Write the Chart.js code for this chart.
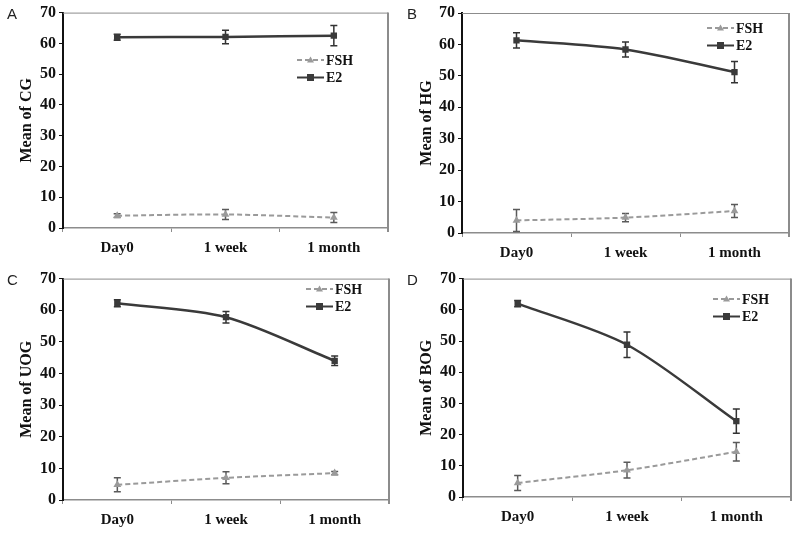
<!DOCTYPE html>
<html>
<head>
<meta charset="utf-8">
<script src="https://cdn.jsdelivr.net/npm/chart.js@4.4.1/dist/chart.umd.min.js"></script>
<style>
  body { margin: 0; background: #fff; }
  .panel { position: absolute; }
</style>
</head>
<body>
<div class="panel" style="left:0;top:0"><canvas id="chartA" width="400" height="266"></canvas></div>
<div class="panel" style="left:400px;top:0"><canvas id="chartB" width="400" height="266"></canvas></div>
<div class="panel" style="left:0;top:266px"><canvas id="chartC" width="400" height="267"></canvas></div>
<div class="panel" style="left:400px;top:266px"><canvas id="chartD" width="400" height="267"></canvas></div>
<script>
// Data
const categories = ['Day0', '1 week', '1 month'];
const yTicks = [0, 10, 20, 30, 40, 50, 60, 70];

const e2A = [62.0, 62.1, 62.5];
const e2ErrA = [1.0, 2.2, 3.3];
const fshA = [4.0, 4.4, 3.4];
const fshErrA = [0.6, 1.6, 1.6];

const e2B = [61.3, 58.4, 51.2];
const e2ErrB = [2.4, 2.4, 3.4];
const fshB = [4.0, 4.9, 7.0];
const fshErrB = [3.5, 1.3, 2.1];

const e2C = [62.2, 57.8, 44.0];
const e2ErrC = [1.1, 1.8, 1.5];
const fshC = [4.8, 7.0, 8.5];
const fshErrC = [2.2, 1.9, 0.5];

const e2D = [62.0, 48.8, 24.3];
const e2ErrD = [1.0, 4.1, 3.9];
const fshD = [4.5, 8.6, 14.5];
const fshErrD = [2.4, 2.5, 3.0];

const SERIF = "'Liberation Serif', 'Times New Roman', serif";
const E2_COLOR = '#3a3a3a';
const FSH_COLOR = '#9a9a9a';

// Error bars, frame, panel letter and legend
const panelPlugin = {
    id: 'panelPlugin',
    beforeDatasetsDraw(chart, args, opts) {
        const ctx = chart.ctx;
        const area = chart.chartArea;
        const x = chart.scales.x;
        const y = chart.scales.y;

        // grey frame (top and right)
        ctx.save();
        ctx.strokeStyle = '#8c8c8c';
        ctx.lineWidth = 1;
        ctx.beginPath();
        ctx.moveTo(area.left, area.top + 0.5);
        ctx.lineTo(area.right, area.top + 0.5);
        ctx.stroke();
        ctx.lineWidth = 2;
        ctx.beginPath();
        ctx.moveTo(area.right, area.top);
        ctx.lineTo(area.right, area.bottom + 4);
        ctx.stroke();
        ctx.restore();

        // error bars
        chart.data.datasets.forEach((ds) => {
            ctx.save();
            ctx.strokeStyle = ds.errColor;
            ctx.lineWidth = 1.5;
            ds.data.forEach((v, i) => {
                const px = x.getPixelForValue(i);
                const top = y.getPixelForValue(v + ds.errors[i]);
                const bot = y.getPixelForValue(v - ds.errors[i]);
                ctx.beginPath();
                ctx.moveTo(px, top);
                ctx.lineTo(px, bot);
                ctx.moveTo(px - 3.5, top);
                ctx.lineTo(px + 3.5, top);
                ctx.moveTo(px - 3.5, bot);
                ctx.lineTo(px + 3.5, bot);
                ctx.stroke();
            });
            ctx.restore();
        });
    },
    afterDraw(chart, args, opts) {
        const ctx = chart.ctx;
        const area = chart.chartArea;

        // panel letter
        ctx.save();
        ctx.fillStyle = '#222';
        ctx.font = "15px 'Liberation Sans', Arial, sans-serif";
        ctx.textBaseline = 'middle';
        ctx.textAlign = 'left';
        ctx.fillText(opts.letter, 7, area.top + 2);
        ctx.restore();

        // legend
        const lx = opts.legendX;
        chart.data.datasets.forEach((ds, k) => {
            const ly = opts.legendY + k * 17.5;
            ctx.save();
            ctx.strokeStyle = ds.borderColor;
            ctx.lineWidth = 2;
            ctx.setLineDash(ds.borderDash || []);
            ctx.beginPath();
            ctx.moveTo(lx, ly);
            ctx.lineTo(lx + 27, ly);
            ctx.stroke();
            ctx.setLineDash([]);
            ctx.fillStyle = ds.pointBackgroundColor;
            if (ds.pointStyle === 'triangle') {
                ctx.beginPath();
                ctx.moveTo(lx + 13.5, ly - 3.5);
                ctx.lineTo(lx + 17, ly + 2.5);
                ctx.lineTo(lx + 10, ly + 2.5);
                ctx.closePath();
                ctx.fill();
            } else {
                ctx.fillRect(lx + 10, ly - 3.5, 7, 7);
            }
            ctx.fillStyle = '#111';
            ctx.font = 'bold 14px ' + SERIF;
            ctx.textBaseline = 'middle';
            ctx.fillText(ds.label, lx + 29, ly + 1);
            ctx.restore();
        });
    }
};

function makePanel(canvasId, letter, yTitle, e2, e2Err, fsh, fshErr, box) {
    const canvas = document.getElementById(canvasId);
    return new Chart(canvas, {
        type: 'line',
        data: {
            labels: categories,
            datasets: [
                {
                    label: 'FSH',
                    data: fsh,
                    errors: fshErr,
                    errColor: '#5a5a5a',
                    borderColor: FSH_COLOR,
                    borderWidth: 2,
                    borderDash: [5, 3],
                    tension: 0.3,
                    pointStyle: 'triangle',
                    pointRadius: 4.5,
                    pointBackgroundColor: FSH_COLOR,
                    pointBorderColor: FSH_COLOR,
                    pointBorderWidth: 0
                },
                {
                    label: 'E2',
                    data: e2,
                    errors: e2Err,
                    errColor: '#333',
                    borderColor: E2_COLOR,
                    borderWidth: 2.5,
                    tension: 0.3,
                    pointStyle: 'rect',
                    pointRadius: 4.5,
                    pointBackgroundColor: E2_COLOR,
                    pointBorderColor: E2_COLOR,
                    pointBorderWidth: 0
                }
            ]
        },
        options: {
            responsive: false,
            animation: false,
            events: [],
            layout: {
                padding: { left: 0, top: box.top, right: canvas.width - box.right, bottom: 0 }
            },
            plugins: {
                legend: { display: false },
                tooltip: { enabled: false },
                panelPlugin: { letter: letter, legendX: box.legendX, legendY: box.legendY }
            },
            scales: {
                x: {
                    offset: true,
                    afterFit: (s) => { s.height = canvas.height - box.bottom; },
                    border: { color: '#8c8c8c', width: 1.5 },
                    grid: { offset: true, drawOnChartArea: false, tickLength: 4, color: '#8c8c8c' },
                    ticks: {
                        color: '#111',
                        padding: 7,
                        font: { family: SERIF, size: 15, weight: 'bold' }
                    }
                },
                y: {
                    min: 0,
                    max: 70,
                    afterFit: (s) => { s.width = box.left; },
                    afterBuildTicks: (s) => { s.ticks = yTicks.map(v => ({ value: v })); },
                    border: { color: '#111', width: 2 },
                    grid: { drawOnChartArea: false, tickLength: 4, color: '#111' },
                    ticks: {
                        color: '#111',
                        padding: 3,
                        font: { family: SERIF, size: 16, weight: 'bold' }
                    },
                    title: {
                        display: true,
                        text: yTitle,
                        color: '#111',
                        padding: { top: 17, bottom: 0 },
                        font: { family: SERIF, size: 16, weight: 'bold' }
                    }
                }
            }
        },
        plugins: [panelPlugin]
    });
}

makePanel('chartA', 'A', 'Mean of CG', e2A, e2ErrA, fshA, fshErrA,
    { left: 63, right: 388, top: 11, bottom: 228, legendX: 297, legendY: 60 });
makePanel('chartB', 'B', 'Mean of HG', e2B, e2ErrB, fshB, fshErrB,
    { left: 62, right: 389, top: 13, bottom: 233, legendX: 307, legendY: 28 });
makePanel('chartC', 'C', 'Mean of UOG', e2C, e2ErrC, fshC, fshErrC,
    { left: 63, right: 389, top: 10, bottom: 234, legendX: 306, legendY: 23 });
makePanel('chartD', 'D', 'Mean of BOG', e2D, e2ErrD, fshD, fshErrD,
    { left: 63, right: 391, top: 8, bottom: 231, legendX: 313, legendY: 33 });
</script>
</body>
</html>
